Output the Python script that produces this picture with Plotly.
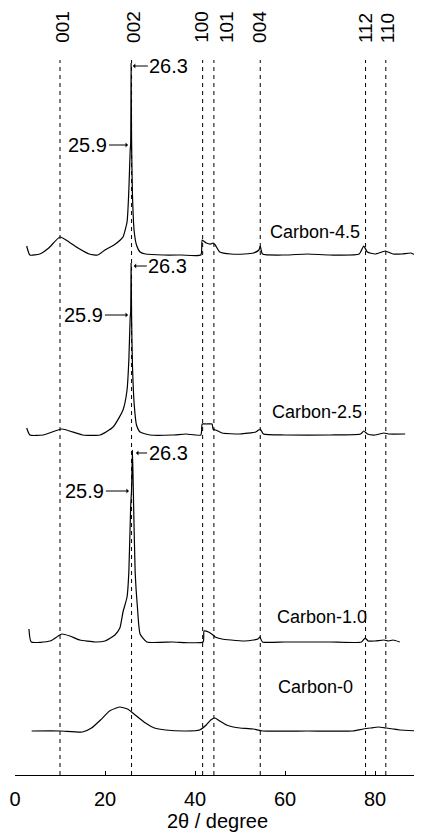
import plotly.graph_objects as go

# ---- data (2theta in degrees, intensity in arbitrary units above each baseline) ----
c45_x = [2.6, 3.3, 5.5, 7.5, 10.0, 12.0, 14.0, 16.5, 18.4, 20.0, 22.0, 23.4, 24.0, 24.9, 25.3, 25.6, 25.7, 25.8,
         25.9, 26.1, 26.5, 27.0, 27.8, 29.0, 33.0, 37.0, 41.3, 41.6, 42.5, 43.5, 44.0, 44.5, 45.5, 48.0, 51.0, 53.0,
         54.2, 54.5, 55.0, 60.0, 65.0, 70.0, 76.5, 77.5, 78.3, 80.0, 81.5, 82.3, 84.0, 86.0, 88.0, 89.3]
c45_y = [9, 0, 1, 7, 18, 13, 7, 1, 0, 5, 10, 15, 18, 33, 65, 105, 110, 192,
         115, 60, 23, 10, 3, 1, 0, 0, 0, 15, 12, 11, 12, 10, 3, 1, 1, 2,
         5, 9, 1, 0, 1, 0, 1, 9, 3, 1, 3, 4, 1, 1, 2, -1]

c25_x = [2.6, 3.3, 6.3, 10.4, 15.0, 18.9, 21.8, 24.0, 24.9, 25.3, 25.6, 25.7, 25.8, 25.9, 26.1, 26.5, 27.0, 27.8,
         30.0, 35.0, 38.0, 41.3, 41.6, 42.5, 43.8, 44.0, 44.6, 46.0, 50.0, 53.5, 54.5, 55.2, 60.0, 70.0, 76.8,
         77.5, 78.3, 80.0, 82.0, 83.0, 86.7]
c25_y = [7, 0, 0, 6, 0, 0, 8, 25, 45, 75, 118, 122, 172, 120, 70, 30, 10, 3,
         0, 0, 1, 0, 11, 11, 11, 6, 5, 2, 1, 3, 6, 1, 0, 0, 1,
         4, 1, 0, 2, 1, 1]

c10_x = [3.1, 3.6, 7.8, 9.6, 10.4, 12.2, 14.4, 17.8, 20.0, 22.2, 23.3, 24.0, 24.9, 25.3, 25.7, 25.9, 26.1, 26.3,
         26.7, 27.2, 27.8, 29.3, 35.0, 41.8, 42.0, 43.0, 44.0, 44.5, 46.0, 48.0, 51.0, 53.0, 54.0, 54.4, 55.0,
         60.0, 70.0, 77.0, 77.8, 78.5, 80.0, 82.0, 83.0, 84.0, 85.5]
c10_y = [13, 0, 1, 6, 8, 6, 2, 0, 1, 7, 14, 30, 45, 70, 135, 152, 192, 150,
         70, 35, 8, 0, 0, 0, 11, 10, 7, 5, 3, 2, 1, 2, 3, 5, 0,
         0, 0, 0, 4, 1, 1, 2, 1, 2, 0]

c0_x = [3.7, 10.0, 15.0, 17.0, 19.0, 21.0, 22.5, 23.3, 25.0, 27.0, 29.0, 31.0, 33.5, 38.0, 41.0, 42.5, 43.5,
        44.4, 45.5, 47.0, 48.5, 50.0, 53.0, 55.0, 65.0, 75.0, 77.4, 79.0, 80.7, 82.5, 84.0, 85.5, 90.0]
c0_y = [0, 0, -1, 3, 11, 20, 23, 24, 22, 15, 8, 3, 1, 0, 1, 6, 11,
        13, 10, 6, 4, 3, 2, 0, 0, 0, 2, 3, 4, 3, 2, 1, 0]

series_names = ["Carbon-4.5", "Carbon-2.5", "Carbon-1.0", "Carbon-0"]
series_x = [c45_x, c25_x, c10_x, c0_x]
series_y = [c45_y, c25_y, c10_y, c0_y]
offsets = [520, 340, 133, 44]

hkl_labels = ["001", "002", "100", "101", "004", "112", "110"]
hkl_pos = [10.0, 25.9, 41.7, 44.2, 54.5, 77.9, 82.4]
hkl_text_pos = [10.4, 26.2, 41.3, 46.9, 54.2, 77.8, 82.7]

peak_labels = ["26.3", "25.9"]

FONT = "Liberation Sans, Arial, Helvetica, sans-serif"

fig = go.Figure()

for xs, ys, off in zip(series_x, series_y, offsets):
    fig.add_trace(go.Scatter(x=xs, y=[v + off for v in ys], mode="lines",
                             line=dict(color="black", width=1.2, shape="spline", smoothing=0.5),
                             showlegend=False, hoverinfo="skip"))

# dashed reference lines
for p in hkl_pos:
    fig.add_shape(type="line", x0=p, x1=p, y0=0, y1=715, xref="x", yref="y",
                  line=dict(color="black", width=1, dash="4px,4px"))

annotations = []
for lab, tp in zip(hkl_labels, hkl_text_pos):
    annotations.append(dict(x=tp, y=730, xref="x", yref="y", text=lab, showarrow=False,
                            textangle=-90, yanchor="bottom", xanchor="center",
                            font=dict(family=FONT, size=19, color="black")))

label_pos = [(66.7, 543), (67.1, 363), (68.2, 158), (66.7, 88)]
for name, (lx, ly) in zip(series_names, label_pos):
    annotations.append(dict(x=lx, y=ly, xref="x", yref="y", text=name, showarrow=False,
                            font=dict(family=FONT, size=18, color="black")))

# peak markers for the three graphitised samples
peak_arrow_pts = [
    (26.2, 36, 25.1, 110, -40),
    (26.4, 34, 25.1, 120, -44),
    (26.9, 32, 25.3, 151, -44),
]
for i, (x1, ax1, x2, y2, ax2) in enumerate(peak_arrow_pts):
    off = offsets[i]
    top = max(series_y[i]) + off
    annotations.append(dict(x=x1, y=top - 3, xref="x", yref="y", text=peak_labels[0],
                            showarrow=True, ax=ax1, ay=0, arrowhead=1, arrowsize=0.8,
                            arrowwidth=1, arrowcolor="black",
                            font=dict(family=FONT, size=20, color="black")))
    annotations.append(dict(x=x2, y=y2 + off, xref="x", yref="y", text=peak_labels[1],
                            showarrow=True, ax=ax2, ay=0, arrowhead=1, arrowsize=0.8,
                            arrowwidth=1, arrowcolor="black",
                            font=dict(family=FONT, size=20, color="black")))

# the page body adds an 8px offset, so the figure is laid out 8px up/left of the target
fig.update_layout(
    width=422, height=838,
    margin=dict(l=7, r=10, t=0, b=71, autoexpand=False),
    paper_bgcolor="white", plot_bgcolor="white",
    annotations=annotations,
    font=dict(family=FONT, size=19, color="black"),
    xaxis=dict(range=[0, 90], tickvals=[0, 20, 40, 60, 80], ticks="inside", ticklen=4,
               tickcolor="black", showline=True, linecolor="black", linewidth=1,
               showgrid=False, zeroline=False, ticklabelstandoff=6, automargin=False,
               tickfont=dict(family=FONT, size=20, color="black"),
               title=dict(text="2θ / degree", standoff=4,
                          font=dict(family=FONT, size=20, color="black"))),
    yaxis=dict(range=[0, 767], visible=False, showgrid=False, zeroline=False, automargin=False),
)

fig.write_html("out.html")
